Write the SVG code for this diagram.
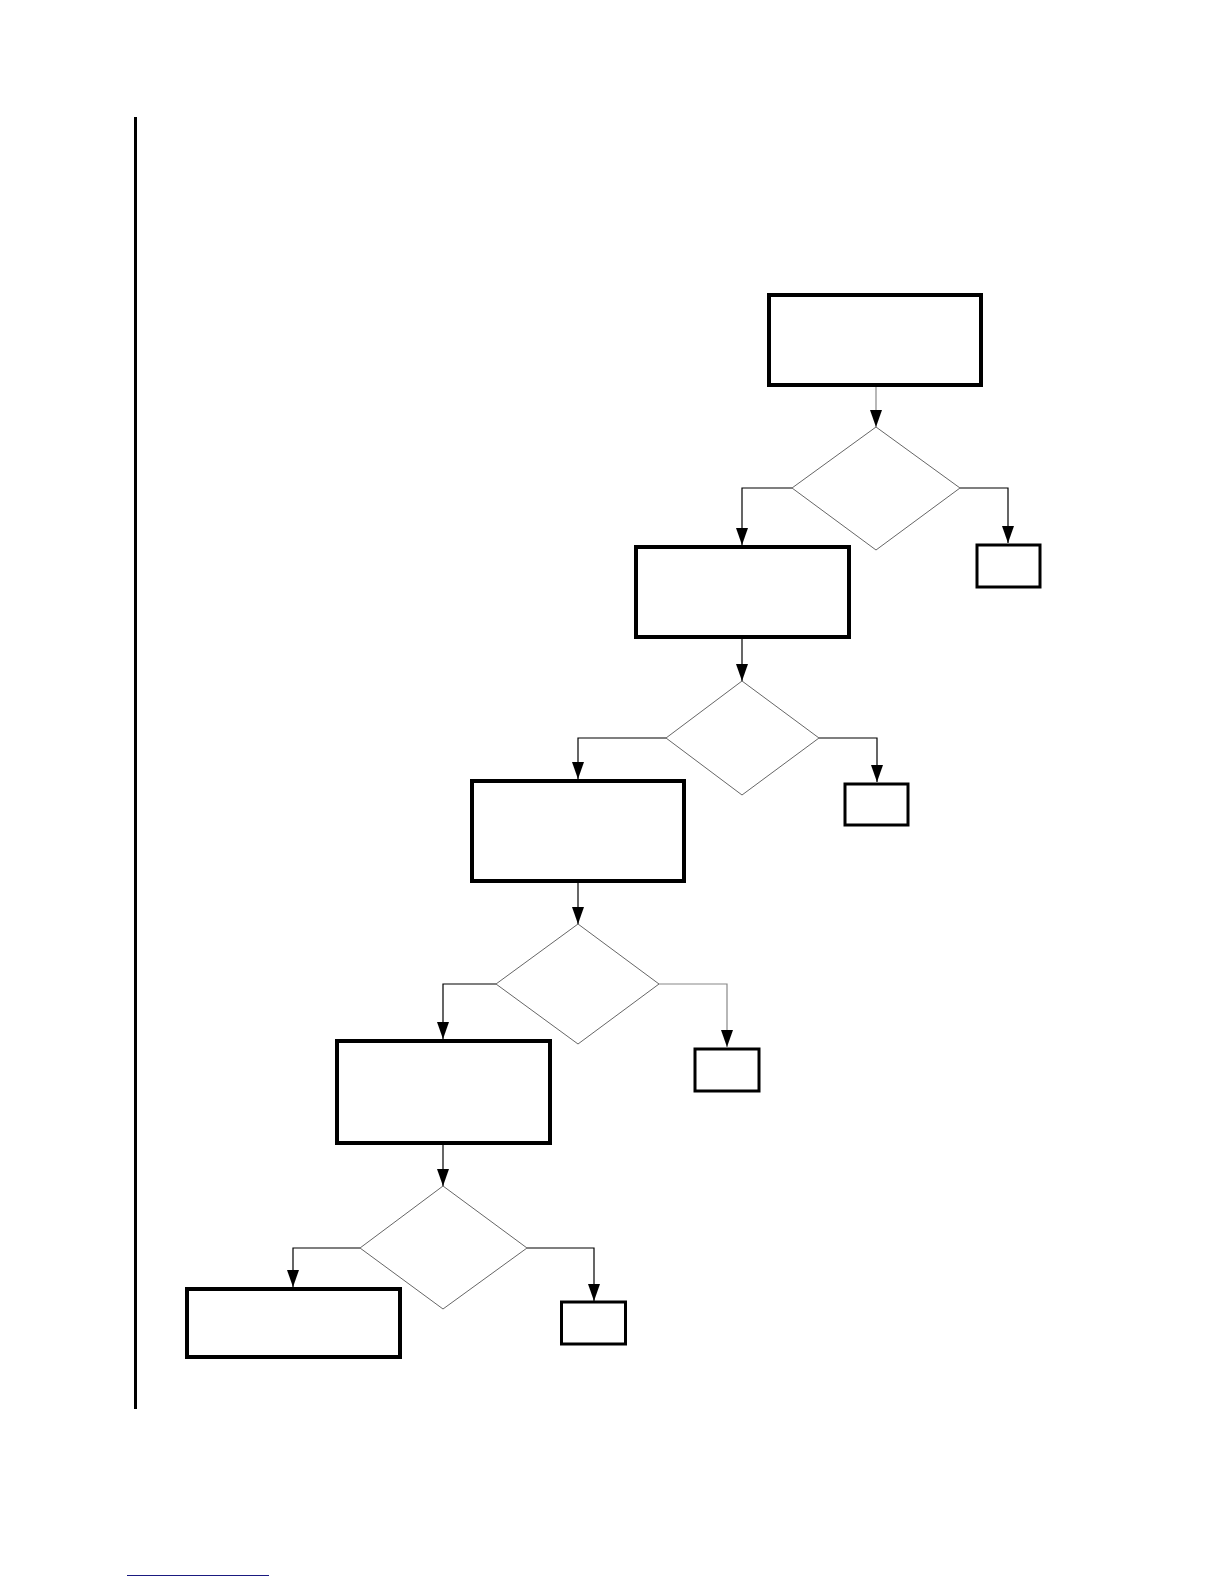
<svg xmlns="http://www.w3.org/2000/svg" width="1224" height="1584" viewBox="0 0 1224 1584">
<style>
.box{fill:#fff;stroke:#000;stroke-width:4}
.small{fill:#fff;stroke:#000;stroke-width:3}
.dia{fill:#fff;stroke:#666;stroke-width:1}
.conn{fill:none;stroke:#000;stroke-width:1.2}
.gray{stroke:#888}
</style>
<defs>
<marker id="arr" markerUnits="userSpaceOnUse" markerWidth="17" markerHeight="12" refX="17" refY="6" orient="auto">
<path d="M0,0 L17,6 L0,12 z" fill="#000"/>
</marker>
</defs>
<rect width="1224" height="1584" fill="#fff"/>
<line x1="135.5" y1="117" x2="135.5" y2="1409" stroke="#000" stroke-width="3"/>
<line x1="127" y1="1575.5" x2="269" y2="1575.5" stroke="#1a1a80" stroke-width="1.2"/>
<g id="connectors">
<path class="conn gray" d="M876,387 V427" marker-end="url(#arr)"/>
<path class="conn" d="M792,488 H742 V545" marker-end="url(#arr)"/>
<path class="conn" d="M960,488 H1008 V543" marker-end="url(#arr)"/>
<path class="conn" d="M742,639 V681" marker-end="url(#arr)"/>
<path class="conn" d="M666,738 H578 V779" marker-end="url(#arr)"/>
<path class="conn" d="M819,738 H877 V782" marker-end="url(#arr)"/>
<path class="conn" d="M578,883 V924" marker-end="url(#arr)"/>
<path class="conn" d="M496,984 H443 V1039" marker-end="url(#arr)"/>
<path class="conn gray" d="M659,984 H727 V1047" marker-end="url(#arr)"/>
<path class="conn" d="M443,1145 V1186" marker-end="url(#arr)"/>
<path class="conn" d="M360,1248 H293 V1287" marker-end="url(#arr)"/>
<path class="conn" d="M527,1248 H594 V1301" marker-end="url(#arr)"/>
</g>
<g id="box1"><rect class="box" x="769" y="295" width="212" height="90"/></g>
<g id="decision1"><polygon class="dia" points="876,427 960,488 876,550 792,488"/></g>
<g id="end1"><rect class="small" x="977" y="545" width="63" height="42"/></g>
<g id="box2"><rect class="box" x="636" y="547" width="213" height="90"/></g>
<g id="decision2"><polygon class="dia" points="742,681 819,738 742,795 666,738"/></g>
<g id="end2"><rect class="small" x="845" y="784" width="63" height="41"/></g>
<g id="box3"><rect class="box" x="472" y="781" width="212" height="100"/></g>
<g id="decision3"><polygon class="dia" points="578,924 659,984 578,1044 496,984"/></g>
<g id="end3"><rect class="small" x="695" y="1049" width="64" height="42"/></g>
<g id="box4"><rect class="box" x="337" y="1041" width="213" height="102"/></g>
<g id="decision4"><polygon class="dia" points="443,1186 527,1248 443,1309 360,1248"/></g>
<g id="end4"><rect class="small" x="561.5" y="1302" width="64" height="42"/></g>
<g id="box5"><rect class="box" x="187" y="1289" width="213" height="68"/></g>
</svg>
